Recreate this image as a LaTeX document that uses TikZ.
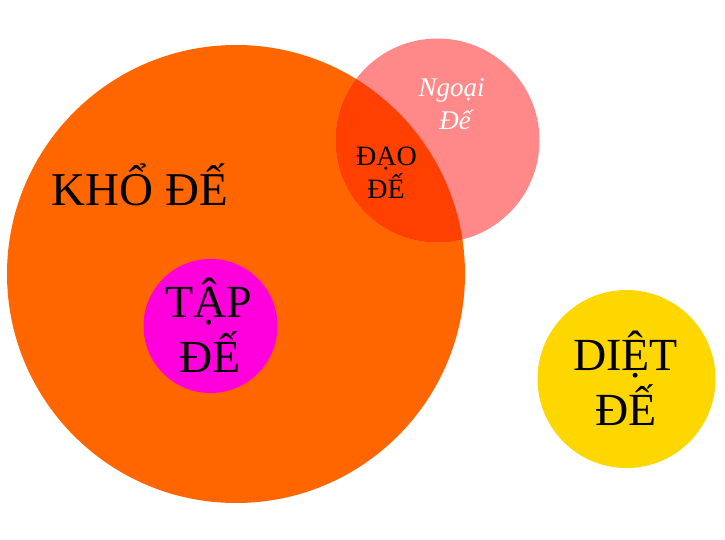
\documentclass[tikz,border=0pt]{standalone}
\usepackage{fontspec}
\setmainfont{Liberation Serif}
\definecolor{khoC}{HTML}{FF6600}
\definecolor{ngoaiC}{HTML}{FF8888}
\definecolor{daoC}{HTML}{FF4000}
\definecolor{tapC}{HTML}{FF00DD}
\definecolor{dietC}{HTML}{FFD700}
\tikzset{
  lbl/.style={anchor=base, inner sep=0pt, text=black},
  big/.style={lbl, font=\fontsize{46}{55}\selectfont},
}
\begin{document}
\begin{tikzpicture}[x=1pt,y=-1pt]
\useasboundingbox (0,0) rectangle (725,540);
\fill[white] (0,0) rectangle (725,540);
% circles
\fill[khoC] (236,274) circle[radius=229];
\fill[ngoaiC] (437.5,140.5) circle[radius=102];
\begin{scope}
  \clip (236,274) circle[radius=229];
  \fill[daoC] (437.5,140.5) circle[radius=102];
\end{scope}
\fill[tapC] (210.5,326) circle[radius=67];
\fill[dietC] (626.5,379) circle[radius=89];
% labels
\node[big, font=\fontsize{47}{55}\selectfont] (kho) at (140,205) {KHỔ ĐẾ};
\node[big] (tap1) at (209,317) {TẬP};
\node[big] (tap2) at (210,372) {ĐẾ};
\node[big] (diet1) at (625.5,370) {DIỆT};
\node[big] (diet2) at (626,425) {ĐẾ};
\node[lbl, font=\fontsize{28}{33}\selectfont] (dao1) at (386.5,166) {ĐẠO};
\node[lbl, font=\fontsize{28}{33}\selectfont] (dao2) at (386,199) {ĐẾ};
\node[lbl, text=white, font=\fontsize{27}{33}\selectfont\itshape] (ngoai1) at (451.5,97) {Ngoại};
\node[lbl, text=white, font=\fontsize{27}{33}\selectfont\itshape] (ngoai2) at (455,130) {Đế};
\end{tikzpicture}
\end{document}
